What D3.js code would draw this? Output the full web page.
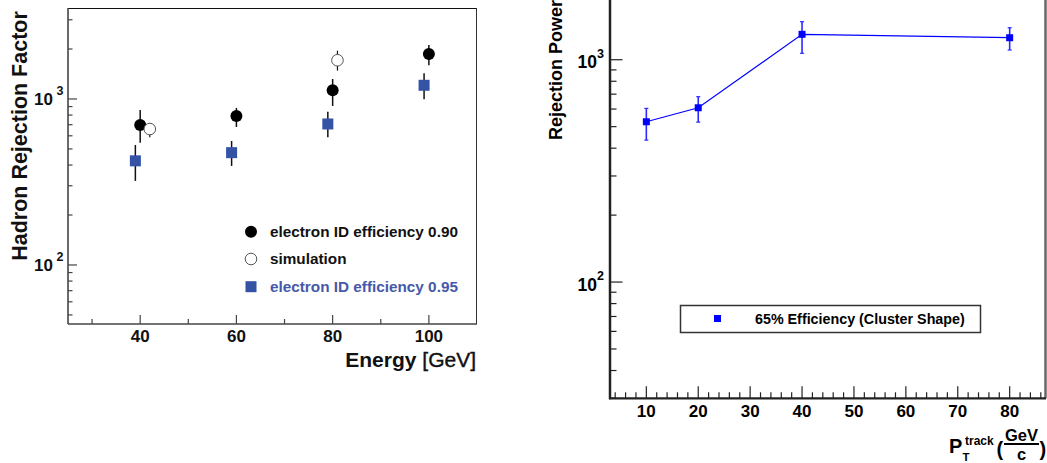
<!DOCTYPE html>
<html><head><meta charset="utf-8">
<script src="https://cdn.jsdelivr.net/npm/d3@7"></script>
<style>
body{margin:0;background:#fff}
svg{display:block;font-family:"Liberation Sans",Arial,Helvetica,sans-serif}
</style>
</head><body>
<svg id="c" width="1047" height="463"></svg>
<script>
// ---------- Left panel data ----------
const eff90E  = [40, 60, 80, 100];
const eff90   = [697, 790, 1128, 1867];
const eff90Lo = [544, 678, 907, 1596];
const eff90Hi = [859, 883, 1319, 2113];

const simE  = [42, 81];
const sim   = [659, 1711];
const simLo = [588, 1482];
const simHi = [714, 1954];

const eff95E  = [39, 59, 79, 99];
const eff95   = [424, 475, 707, 1209];
const eff95Lo = [321, 395, 588, 995];
const eff95Hi = [528, 558, 838, 1428];

const leftXMajor = [40, 60, 80, 100];
const leftXMinor = [30, 50, 70, 90];
const leftYMajor = [100, 1000];
const leftYExp   = ["2", "3"];
const leftLegend = ["electron ID efficiency 0.90", "simulation", "electron ID efficiency 0.95"];
const leftXTitle = ["Energy", "[GeV]"];
const leftYTitle = "Hadron Rejection Factor";

// ---------- Right panel data ----------
const pt     = [10, 20, 40, 80];
const rej    = [526, 608, 1301, 1256];
const rejLo  = [435, 524, 1069, 1106];
const rejHi  = [604, 682, 1483, 1393];

const rightXMajor = [10, 20, 30, 40, 50, 60, 70, 80];
const rightYMajor = [100, 1000];
const rightYExp   = ["2", "3"];
const rightLegend = "65% Efficiency (Cluster Shape)";
const rightYTitle = "Rejection Power";

const svg = d3.select("#c");

// ================= LEFT PANEL =================
const L = {x0: 68, x1: 477, y0: 8, y1: 324};
const lx = d3.scaleLinear().domain([25, 110]).range([L.x0, L.x1]);
const ly = d3.scaleLog().domain([44.1, 3532]).range([L.y1, L.y0]);

const lg = svg.append("g");
lg.append("line").attr("x1", L.x0).attr("x2", L.x1).attr("y1", L.y0 + 0.5).attr("y2", L.y0 + 0.5).attr("stroke", "#111").attr("stroke-width", 1);
lg.append("line").attr("x1", L.x1 - 0.5).attr("x2", L.x1 - 0.5).attr("y1", L.y0).attr("y2", L.y1).attr("stroke", "#333").attr("stroke-width", 1);
lg.append("line").attr("x1", L.x0).attr("x2", L.x0).attr("y1", L.y0).attr("y2", L.y1).attr("stroke", "#444").attr("stroke-width", 1.6);
lg.append("line").attr("x1", L.x0).attr("x2", L.x1).attr("y1", L.y1).attr("y2", L.y1).attr("stroke", "#444").attr("stroke-width", 1.6);

const lyTicks = ly.ticks().filter(v => v >= 44.1 && v <= 3532);
lyTicks.forEach(v => {
  const major = leftYMajor.includes(v);
  lg.append("line").attr("x1", L.x0).attr("x2", L.x0 + (major ? 9 : 4.5))
    .attr("y1", ly(v)).attr("y2", ly(v)).attr("stroke", "#444").attr("stroke-width", 1.2);
});
leftYMajor.forEach((v, i) => {
  lg.append("text").attr("x", 53).attr("y", ly(v) + 6.5).attr("text-anchor", "end")
    .attr("font-weight", "bold").attr("font-size", 17).attr("fill", "#111").text("10");
  lg.append("text").attr("x", 56.5).attr("y", ly(v) - 4).attr("font-weight", "bold")
    .attr("font-size", 12.5).attr("fill", "#111").text(leftYExp[i]);
});
leftXMajor.concat(leftXMinor).forEach(v => {
  const major = leftXMajor.includes(v);
  lg.append("line").attr("x1", lx(v)).attr("x2", lx(v)).attr("y1", L.y1).attr("y2", L.y1 - (major ? 9 : 5))
    .attr("stroke", "#444").attr("stroke-width", 1.2);
});
leftXMajor.forEach(v => {
  lg.append("text").attr("x", lx(v)).attr("y", 342).attr("text-anchor", "middle")
    .attr("font-size", 17).attr("font-weight", "bold").attr("fill", "#111").text(v);
});
const xt = lg.append("text").attr("x", 476).attr("y", 367).attr("text-anchor", "end").attr("font-size", 21).attr("fill", "#111");
xt.append("tspan").attr("font-weight", "bold").text(leftXTitle[0] + " ");
xt.append("tspan").attr("font-weight", "normal").attr("stroke", "#111").attr("stroke-width", 0.4).text(leftXTitle[1]);
lg.append("text").attr("transform", "translate(27,136) rotate(-90)").attr("text-anchor", "middle")
  .attr("font-size", 21.5).attr("font-weight", "bold").attr("fill", "#111").text(leftYTitle);

function errBars(g, xs, lo, hi, xsc, ysc, color, w) {
  g.selectAll(null).data(xs).enter().append("line")
    .attr("x1", d => xsc(d)).attr("x2", d => xsc(d))
    .attr("y1", (d, i) => ysc(lo[i])).attr("y2", (d, i) => ysc(hi[i]))
    .attr("stroke", color).attr("stroke-width", w);
}
errBars(lg, eff95E, eff95Lo, eff95Hi, lx, ly, "#111", 1.5);
errBars(lg, eff90E, eff90Lo, eff90Hi, lx, ly, "#111", 1.5);
errBars(lg, simE, simLo, simHi, lx, ly, "#111", 1.2);
lg.selectAll(null).data(eff95E).enter().append("rect")
  .attr("x", d => lx(d) - 5.5).attr("y", (d, i) => ly(eff95[i]) - 5.5).attr("width", 11).attr("height", 11)
  .attr("fill", "#3553a5");
lg.selectAll(null).data(eff90E).enter().append("circle")
  .attr("cx", d => lx(d)).attr("cy", (d, i) => ly(eff90[i])).attr("r", 6).attr("fill", "#000");
lg.selectAll(null).data(simE).enter().append("circle")
  .attr("cx", d => lx(d)).attr("cy", (d, i) => ly(sim[i])).attr("r", 5.8).attr("fill", "#fff").attr("stroke", "#555").attr("stroke-width", 1);

const legY = [231.7, 259, 286.7];
lg.append("circle").attr("cx", 251).attr("cy", legY[0]).attr("r", 6).attr("fill", "#000");
lg.append("circle").attr("cx", 251).attr("cy", legY[1]).attr("r", 5.8).attr("fill", "#fff").attr("stroke", "#555");
lg.append("rect").attr("x", 245.5).attr("y", legY[2] - 5.5).attr("width", 11).attr("height", 11).attr("fill", "#3553a5");
leftLegend.forEach((s, i) => {
  lg.append("text").attr("x", 270).attr("y", legY[i] + 5.4).attr("font-size", 15.3).attr("font-weight", "bold")
    .attr("fill", i === 2 ? "#4659a8" : "#111").text(s);
});

// ================= RIGHT PANEL =================
const R = {x0: 610, x1: 1046, y0: -7.2, y1: 398.3};
const rx = d3.scaleLinear().domain([3, 87]).range([R.x0, R.x1]);
const ry = d3.scaleLog().domain([30, 2000]).range([R.y1, R.y0]);
const rg = svg.append("g");

rg.append("line").attr("x1", R.x1 - 0.5).attr("x2", R.x1 - 0.5).attr("y1", R.y0).attr("y2", R.y1).attr("stroke", "#666").attr("stroke-width", 2.5);
rg.append("line").attr("x1", R.x0).attr("x2", R.x0).attr("y1", R.y0).attr("y2", R.y1 + 1).attr("stroke", "#222").attr("stroke-width", 2.5);
rg.append("line").attr("x1", R.x0 - 1).attr("x2", R.x1).attr("y1", R.y1).attr("y2", R.y1).attr("stroke", "#222").attr("stroke-width", 2.2);

const ryTicks = ry.ticks().filter(v => v >= 30 && v <= 2000);
ryTicks.forEach(v => {
  const major = rightYMajor.includes(v);
  rg.append("line").attr("x1", R.x0).attr("x2", R.x0 + (major ? 12.5 : 6.5))
    .attr("y1", ry(v)).attr("y2", ry(v)).attr("stroke", "#222").attr("stroke-width", 1.2);
});
rightYMajor.forEach((v, i) => {
  rg.append("text").attr("x", 597).attr("y", ry(v) + 8.5).attr("text-anchor", "end")
    .attr("font-size", 17.5).attr("font-weight", "bold").attr("fill", "#000").text("10");
  rg.append("text").attr("x", 597).attr("y", ry(v) - 2).attr("font-size", 12.5).attr("font-weight", "bold").attr("fill", "#000").text(rightYExp[i]);
});
const rxMinor = rx.ticks(42).filter(v => v > 3 && v < 87 && !rightXMajor.includes(v));
rxMinor.concat(rightXMajor).forEach(v => {
  const major = rightXMajor.includes(v);
  rg.append("line").attr("x1", rx(v)).attr("x2", rx(v)).attr("y1", R.y1).attr("y2", R.y1 - (major ? 12 : 6))
    .attr("stroke", "#222").attr("stroke-width", 1.2);
});
rightXMajor.forEach(v => {
  rg.append("text").attr("x", rx(v)).attr("y", 417).attr("text-anchor", "middle")
    .attr("font-size", 17).attr("font-weight", "bold").attr("fill", "#000").text(v);
});
rg.append("text").attr("transform", "translate(562,140) rotate(-90)").attr("text-anchor", "start")
  .attr("font-size", 18).attr("font-weight", "bold").attr("fill", "#000").text(rightYTitle);

const xtg = rg.append("g").attr("font-weight", "bold").attr("fill", "#000");
xtg.append("text").attr("x", 949).attr("y", 452.5).attr("font-size", 20).text("P");
xtg.append("text").attr("x", 962.5).attr("y", 461).attr("font-size", 11.5).text("T");
xtg.append("text").attr("x", 965).attr("y", 445).attr("font-size", 12).text("track");
xtg.append("text").attr("x", 996.5).attr("y", 456).attr("font-size", 20).text("(");
xtg.append("text").attr("x", 1021.5).attr("y", 440.5).attr("font-size", 16.5).attr("text-anchor", "middle").text("GeV");
xtg.append("line").attr("x1", 1004).attr("x2", 1039).attr("y1", 444).attr("y2", 444).attr("stroke", "#000").attr("stroke-width", 2);
xtg.append("text").attr("x", 1021.5).attr("y", 460).attr("font-size", 16.5).attr("text-anchor", "middle").text("c");
xtg.append("text").attr("x", 1039.5).attr("y", 456).attr("font-size", 20).text(")");

rg.append("path").datum(pt)
  .attr("d", d3.line().x(d => rx(d)).y((d, i) => ry(rej[i])))
  .attr("fill", "none").attr("stroke", "#0000ff").attr("stroke-width", 1.2);
errBars(rg, pt, rejLo, rejHi, rx, ry, "#2a2aff", 1.6);
rg.selectAll(null).data(pt).enter().append("line")
  .attr("x1", d => rx(d) - 2).attr("x2", d => rx(d) + 2).attr("y1", (d, i) => ry(rejLo[i])).attr("y2", (d, i) => ry(rejLo[i]))
  .attr("stroke", "#2a2aff").attr("stroke-width", 1.2);
rg.selectAll(null).data(pt).enter().append("line")
  .attr("x1", d => rx(d) - 2).attr("x2", d => rx(d) + 2).attr("y1", (d, i) => ry(rejHi[i])).attr("y2", (d, i) => ry(rejHi[i]))
  .attr("stroke", "#2a2aff").attr("stroke-width", 1.2);
rg.selectAll(null).data(pt).enter().append("rect")
  .attr("x", d => rx(d) - 3.5).attr("y", (d, i) => ry(rej[i]) - 3.5).attr("width", 7).attr("height", 7).attr("fill", "#0000ff");

rg.append("rect").attr("x", 680.5).attr("y", 305.5).attr("width", 300).attr("height", 27).attr("fill", "#fff").attr("stroke", "#333").attr("stroke-width", 1.5);
rg.append("rect").attr("x", 714).attr("y", 315).attr("width", 7).attr("height", 7).attr("fill", "#0000ff");
rg.append("text").attr("x", 755).attr("y", 323.5).attr("font-size", 14.3).attr("font-weight", "bold").attr("fill", "#000").text(rightLegend);
</script>
</body></html>
